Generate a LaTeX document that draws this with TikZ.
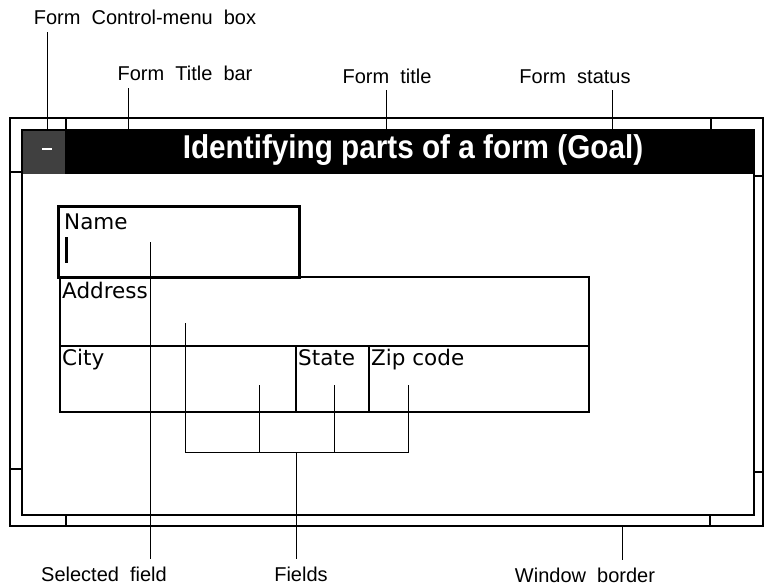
\documentclass[tikz,border=0pt]{standalone}
\usepackage{fontspec}
\newfontfamily\lblfont[WordSpace=2.0]{Liberation Sans}
\newfontfamily\fieldfont{DejaVu Sans}
\newfontfamily\titlefont[FakeStretch=0.9]{Liberation Sans}
\begin{document}
\begin{tikzpicture}[x=1pt,y=-1pt,
  lbl/.style={font=\lblfont\fontsize{20}{23}\selectfont, inner xsep=0pt, inner ysep=7pt, anchor=base},
  fld/.style={font=\fieldfont\fontsize{21.5}{24}\selectfont, inner sep=0pt, anchor=base west},
  frameline/.style={line width=1.6pt},
  fieldbox/.style={draw, line width=1.5pt, inner sep=0pt, anchor=north west},
  ptr/.style={line width=0.7pt},
  ttl/.style={font=\titlefont\bfseries\fontsize{33}{36}\selectfont, text=white, inner sep=0pt, anchor=base}]
\useasboundingbox (0,0) rectangle (765,586);

% ---- window frame ----
\draw[frameline] (10,118) rectangle (763,526);
\fill[black] (22,130) rectangle (754,174);
\fill[black!75] (22,130) rectangle (65,174);
\draw[white, line width=2pt] (42,149) -- (52,149);
\draw[frameline] (22,130) rectangle (754,515);
\draw[frameline] (66,118) -- (66,130);
\draw[frameline] (711,118) -- (711,130);
\draw[frameline] (10,172) -- (22,172);
\draw[frameline] (754,176) -- (763,176);
\draw[frameline] (10,469) -- (22,469);
\draw[frameline] (754,472) -- (763,472);
\draw[frameline] (66,515) -- (66,526);
\draw[frameline] (710,515) -- (710,526);

\node[ttl] (title) at (413,158) {Identifying parts of a form (Goal)};

% ---- form fields ----
\node[fieldbox, minimum width=529pt, minimum height=69pt] (addr) at (59,276) {};
\node[fieldbox, minimum width=236pt, minimum height=66pt] (city) at (59,345) {};
\node[fieldbox, minimum width=73pt, minimum height=66pt] (state) at (295,345) {};
\node[fieldbox, minimum width=220pt, minimum height=66pt] (zip) at (368,345) {};
\node[fieldbox, line width=2.8pt, fill=white, minimum width=241pt, minimum height=71pt] (name) at (57,205) {};
\fill[black] (64.5,237) rectangle (67.5,263);

\node[fld] (tname) at (64,229) {Name};
\node[fld] (taddr) at (62,298) {Address};
\node[fld] (tcity) at (62,365) {City};
\node[fld] (tstate) at (298,365) {State};
\node[fld] (tzip) at (371,365) {Zip code};

% ---- labels ----
\node[lbl] (lctl) at (145,25) {Form Control-menu box};
\node[lbl] (lbar) at (185,81) {Form Title bar};
\node[lbl] (lttl) at (387,83) {Form title};
\node[lbl] (lsts) at (575,83) {Form status};
\node[lbl] (lsel) at (104,581) {Selected field};
\node[lbl] (lfld) at (301,581) {Fields};
\node[lbl] (lwin) at (585,582) {Window border};

% ---- pointer lines ----
\coordinate (pctl) at (47,130);
\coordinate (pbar) at (128,130);
\coordinate (pttl) at (386,130);
\coordinate (psts) at (612,130);
\draw[ptr] (pctl |- lctl.south) -- (pctl);
\draw[ptr] (pbar |- lbar.south) -- (pbar);
\draw[ptr] (pttl |- lttl.south) -- (pttl);
\draw[ptr] (psts |- lsts.south) -- (psts);

\coordinate (psel) at (150,242);
\draw[ptr] (psel) -- (psel |- lsel.north);

\coordinate (fa) at (185,323);
\coordinate (fc) at (259,385);
\coordinate (fs) at (334,385);
\coordinate (fz) at (408,385);
\coordinate (fj) at (296,452);
\draw[ptr] (fa) -- (fa |- fj) -- (fz |- fj) -- (fz);
\draw[ptr] (fc) -- (fc |- fj);
\draw[ptr] (fs) -- (fs |- fj);
\draw[ptr] (fj) -- (fj |- lfld.north);

\coordinate (pwin) at (622,526);
\draw[ptr] (pwin) -- (pwin |- lwin.north);
\end{tikzpicture}
\end{document}
